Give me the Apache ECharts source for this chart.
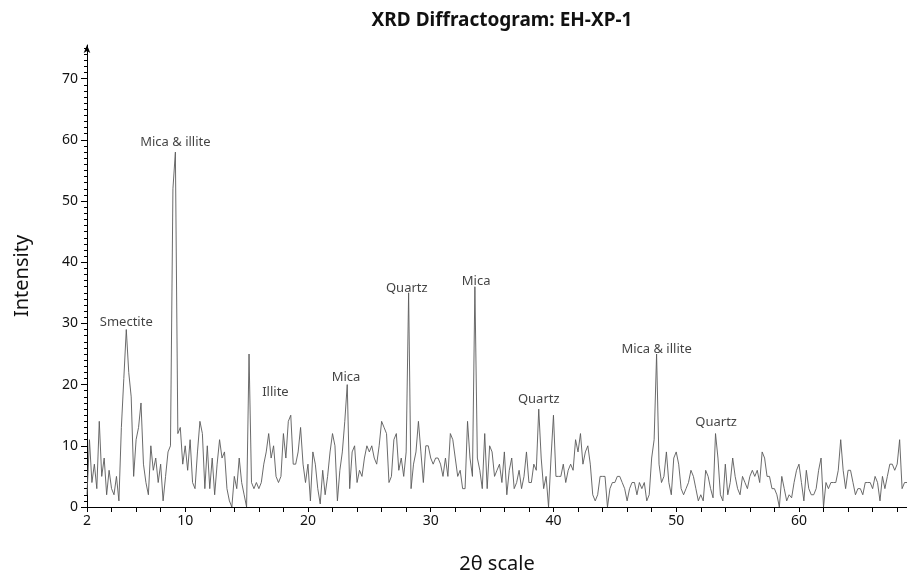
<!DOCTYPE html>
<html><head><meta charset="utf-8">
<script src="https://cdn.jsdelivr.net/npm/echarts@6/dist/echarts.min.js"></script>
<style>html,body{margin:0;padding:0;background:#fff}#c{width:907px;height:579px}</style>
</head><body><div id="c"></div>
<script>
// 2θ sampling of the scan
const START = 2.0;
const STEP = 0.2;
// intensity, one value per 0.2° from 2.0° to 68.8°
const intensity = [
 2,11,4,7,3,14,5,8,2,6,            // 2.0 - 3.8
 3,2,5,1,13,21,29,22,18,5,         // 4.0 - 5.8
 11,13,17,7,4,2,10,6,8,4,          // 6.0 - 7.8
 7,1,5,9,10,52,58,12,13,7,         // 8.0 - 9.8
 10,6,11,4,3,9,14,12,3,10,         // 10.0 - 11.8
 3,8,2,7,11,8,9,3,1,0,             // 12.0 - 13.8
 5,3,8,4,2,0,25,4,3,4,             // 14.0 - 15.8
 3,4,7,9,12,8,10,5,4,5,            // 16.0 - 17.8
 12,8,14,15,7,7,9,13,7,4,          // 18.0 - 19.8
 7,1,9,7,3,0.5,6,2,5,9,            // 20.0 - 21.8
 12,10,1,6,9,14,20,3,9,10,         // 22.0 - 23.8
 4,6,5,8,10,9,10,8,7,10,           // 24.0 - 25.8
 14,13,12,4,5,11,12,6,8,5,         // 26.0 - 27.8
 9,35,3,7,9,14,9,4,10,10,          // 28.0 - 29.8
 8,7,8,8,7,5,8,5,12,11,            // 30.0 - 31.8
 8,5,6,3,3,14,8,5,36,8,            // 32.0 - 33.8
 6,3,12,3,10,9,5,6,7,4,            // 34.0 - 35.8
 9,2,6,8,3,4,6,3,5,9,              // 36.0 - 37.8
 4,4,7,6,16,8,3,5,0,8,             // 38.0 - 39.8
 15,5,5,5,7,4,6,7,6,11,            // 40.0 - 41.8
 9,12,7,9,10,7,2,1,2,5,            // 42.0 - 43.8
 5,5,0,3,4,4,5,5,4,3,              // 44.0 - 45.8
 1,3,4,4,2,4,3,4,1,2,              // 46.0 - 47.8
 8,11,25,7,4,5,9,4,2,8,            // 48.0 - 49.8
 9,7,3,2,3,4,6,5,3,1,              // 50.0 - 51.8
 2,1,6,5,3,1.5,12,8,2,1,           // 52.0 - 53.8
 7,2,4,8,5,3,2,5,4,3,              // 54.0 - 55.8
 5,6,5,6,4,9,8,5,5,3,              // 56.0 - 57.8
 3,2,0,5,3,1,2,1.5,4,6,            // 58.0 - 59.8
 7,4,1,6,3,2,2,3,6,8,              // 60.0 - 61.8
 0,4,3,4,4,4,6,11,6,3,             // 62.0 - 63.8
 6,6,4,2,3,3,2,4,4,4,              // 64.0 - 65.8
 3,5,4,1,5,3,5,7,7,6,              // 66.0 - 67.8
 7,11,3,4,4                        // 68.0 - 68.8
];
// peak annotations (label centre in data units)
const peakNames = ['Smectite','Mica & illite','Illite','Mica','Quartz','Mica','Quartz','Mica & illite','Quartz'];
const peakX = [5.2, 9.2, 17.35, 23.1, 28.05, 33.7, 38.8, 48.4, 53.25];
const peakY = [30.2, 59.6, 18.8, 21.2, 35.8, 36.9, 17.6, 25.8, 13.9];
// axis ticks / labels
const xTickLabels = [2, 10, 20, 30, 40, 50, 60];
const yTickLabels = [0, 10, 20, 30, 40, 50, 60, 70];
const X_MIN = 2, X_MAX = 68.8, Y_MIN = 0, Y_MAX = 75.5;

const xMinorTicks = [];
for (let v = 2; v <= 68; v += 2) xMinorTicks.push(v);
const yMinorTicks = [];
for (let v = 0; v <= 75; v += 1) yMinorTicks.push(v);

const lineData = intensity.map((v, i) => [+(START + i * STEP).toFixed(1), v]);
const labelData = peakNames.map((n, i) => ({ name: n, value: [peakX[i], peakY[i]] }));

const FONT = 'Noto Sans';
const chart = echarts.init(document.getElementById('c'), null, { renderer: 'canvas' });
chart.setOption({
  animation: false,
  backgroundColor: '#fff',
  title: {
    text: 'XRD Diffractogram: EH-XP-1',
    left: 497, top: 6, textAlign: 'center',
    textStyle: { fontFamily: FONT, fontWeight: 'bold', fontSize: 19, color: '#111' }
  },
  grid: { left: 87, right: 0, top: 45, bottom: 72, containLabel: false },
  xAxis: {
    type: 'value', min: X_MIN, max: X_MAX,
    name: '2θ scale', nameLocation: 'middle', nameGap: 47,
    nameTextStyle: { fontFamily: FONT, fontSize: 20, color: '#111' },
    axisLine: { show: true, onZero: false, lineStyle: { color: '#000', width: 1 } },
    axisTick: { show: true, customValues: xMinorTicks, length: 5, lineStyle: { color: '#000' } },
    axisLabel: { customValues: xTickLabels, fontFamily: FONT, fontSize: 14, color: '#111', margin: 7 },
    splitLine: { show: false }
  },
  yAxis: [{
    type: 'value', min: Y_MIN, max: Y_MAX, position: 'left',
    name: 'Intensity', nameLocation: 'middle', nameGap: 55,
    nameTextStyle: { fontFamily: FONT, fontSize: 20, color: '#111' },
    axisLine: { show: true, onZero: false, symbol: ['none', 'arrow'], symbolSize: [5, 8], lineStyle: { color: '#000', width: 1 } },
    axisTick: { show: true, customValues: yTickLabels, length: 6, lineStyle: { color: '#000' } },
    axisLabel: { customValues: yTickLabels, fontFamily: FONT, fontSize: 14, color: '#111', margin: 9 },
    splitLine: { show: false }
  }, {
    type: 'value', min: Y_MIN, max: Y_MAX, position: 'left', offset: 0,
    axisLine: { show: false },
    axisTick: { show: true, customValues: yMinorTicks, length: 3, lineStyle: { color: '#000' } },
    axisLabel: { show: false },
    splitLine: { show: false }
  }],
  series: [{
    type: 'line', data: lineData, showSymbol: false, symbol: 'none',
    lineStyle: { color: '#5a5a5a', width: 0.9 }, silent: true, z: 2
  }, {
    type: 'scatter', data: labelData, symbolSize: 1, itemStyle: { color: 'rgba(0,0,0,0)' },
    silent: true, z: 3,
    label: { show: true, position: 'inside', formatter: p => p.name, fontFamily: FONT, fontSize: 13, color: '#111' }
  }]
});
</script>
</body></html>
